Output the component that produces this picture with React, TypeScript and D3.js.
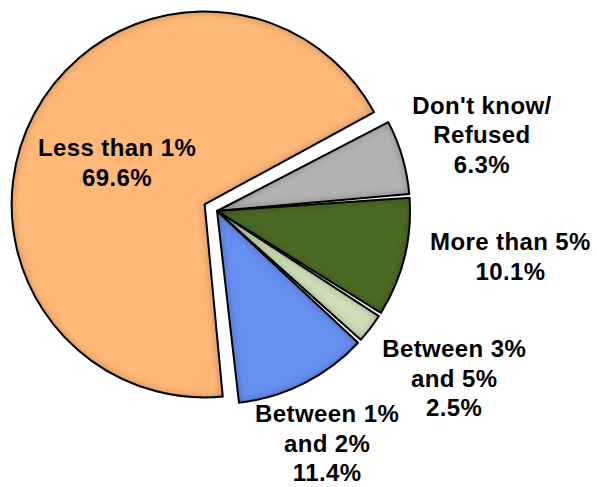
import { useMemo } from "react";
import * as d3 from "d3";

// slice data, clockwise from the grey slice
const categories = ["Don't know/Refused", "More than 5%", "Between 3% and 5%", "Between 1% and 2%", "Less than 1%"];
const labelLines = [["Don't know/", "Refused"], ["More than 5%"], ["Between 3%", "and 5%"], ["Between 1%", "and 2%"], ["Less than 1%"]];
const shares = [6.3, 10.1, 2.5, 11.4, 69.6];
const fills = ["#b3b3b3", "#4b6a27", "#cde0b8", "#6690f0", "#ffb878"];
const exploded = [false, false, false, false, true];

// label placement: radius factor and angle nudge (deg) relative to slice middle
const labelLayout = [
  { k: 1.428, da: 0.26 },
  { k: 1.539, da: -5.07 },
  { k: 1.505, da: -2.2 },
  { k: 1.335, da: 1.45 },
  { k: 0.502, da: -2.7 }
];

const W = 597;
const H = 487;
const cx = 217;
const cy = 211;
const R = 193;
const explodeBy = 14;
const fontSize = 24;
const lineH = 29.5;

export default function App() {
  const arcs = useMemo(() => {
    const pie = d3
      .pie<number>()
      .sort(null)
      .startAngle((62 * Math.PI) / 180)
      .endAngle((62 * Math.PI) / 180 + 2 * Math.PI)
      .padAngle(0.02);
    return pie(shares);
  }, []);

  const arcGen = d3.arc<d3.PieArcDatum<number>>().innerRadius(0).outerRadius(R).padRadius(R);

  return (
    <svg
      width={W}
      height={H}
      style={{ position: "absolute", left: 0, top: 0, background: "#fff" }}
      fontFamily="'Liberation Sans', Arial, sans-serif"
    >
      <defs>
        <filter id="innerShadow" x="-10%" y="-10%" width="120%" height="120%">
          <feComponentTransfer in="SourceAlpha" result="inv">
            <feFuncA type="table" tableValues="1 0" />
          </feComponentTransfer>
          <feGaussianBlur in="inv" stdDeviation="5" result="blur" />
          <feComposite in="blur" in2="SourceAlpha" operator="in" result="shadow" />
          <feFlood floodColor="#000" floodOpacity="0.6" />
          <feComposite in2="shadow" operator="in" result="shade" />
          <feMerge>
            <feMergeNode in="SourceGraphic" />
            <feMergeNode in="shade" />
          </feMerge>
        </filter>
      </defs>
      {arcs.map((a, i) => {
        const mid = (a.startAngle + a.endAngle) / 2;
        const off = exploded[i] ? explodeBy : 0;
        const ox = cx + Math.sin(mid) * off;
        const oy = cy - Math.cos(mid) * off;
        const d = arcGen(a) ?? "";
        return (
          <g key={categories[i]} transform={`translate(${ox},${oy})`}>
            <path d={d} fill={fills[i]} filter="url(#innerShadow)" />
            <path d={d} fill="none" stroke="#000" strokeWidth={2} strokeLinejoin="round" />
          </g>
        );
      })}
      {arcs.map((a, i) => {
        const mid = (a.startAngle + a.endAngle) / 2;
        const off = exploded[i] ? explodeBy : 0;
        const ox = cx + Math.sin(mid) * off;
        const oy = cy - Math.cos(mid) * off;
        const ang = mid + (labelLayout[i].da * Math.PI) / 180;
        const r = R * labelLayout[i].k;
        const lx = ox + Math.sin(ang) * r;
        const ly = oy - Math.cos(ang) * r;
        const lines = [...labelLines[i], `${shares[i].toFixed(1)}%`];
        const n = lines.length;
        return (
          <text
            key={`lbl-${i}`}
            textAnchor="middle"
            fontSize={fontSize}
            fontWeight="bold"
            letterSpacing={0.4}
            fill="#000"
          >
            {lines.map((t, j) => (
              <tspan key={j} x={lx} y={ly + (j - (n - 1) / 2) * lineH + 8}>
                {t}
              </tspan>
            ))}
          </text>
        );
      })}
    </svg>
  );
}
